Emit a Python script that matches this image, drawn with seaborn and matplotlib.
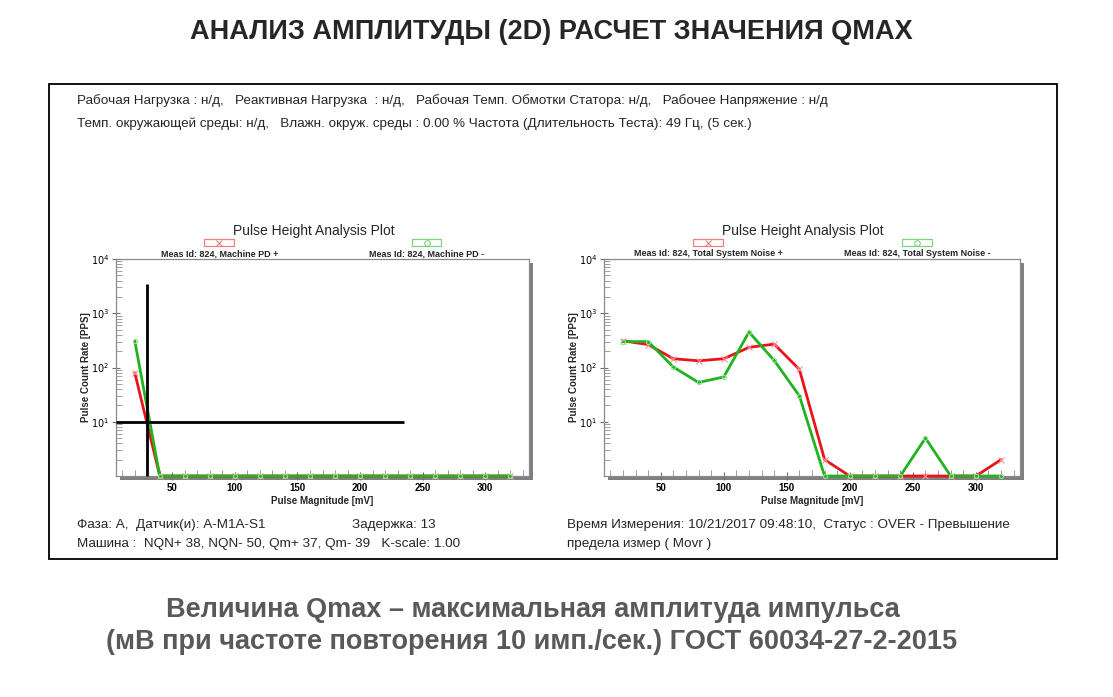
import numpy as np
import pandas as pd
import matplotlib
matplotlib.use('Agg')
import matplotlib.pyplot as plt
import seaborn as sns
from matplotlib.patches import Rectangle
from matplotlib.ticker import FixedLocator, LogLocator, NullFormatter

sns.set_style('white')
plt.rcParams['font.family'] = ['Liberation Sans', 'DejaVu Sans']

# pulse magnitude bins [mV]
magnitude = [20, 40, 60, 80, 100, 120, 140, 160, 180, 200, 220, 240, 260, 280, 300, 320]

# machine PD (left plot), pulse count rate [PPS]
pd_plus = [80, 1, 1, 1, 1, 1, 1, 1, 1, 1, 1, 1, 1, 1, 1, 1]
pd_minus = [310, 1, 1, 1, 1, 1, 1, 1, 1, 1, 1, 1, 1, 1, 1, 1]

# total system noise (right plot)
noise_plus = [310, 265, 145, 133, 145, 235, 270, 92, 2, 1, 1, 1, 1, 1, 1, 2]
noise_minus = [300, 300, 102, 53, 67, 450, 135, 30, 1, 1, 1, 1, 5, 1, 1, 1]

# Qmax construction on the left plot
qmax_mv = 30
rate_level = 10
qmax_line_top = 3500
rate_line_end = 235

legend_left = ['Meas Id: 824, Machine PD +', 'Meas Id: 824, Machine PD -']
legend_right = ['Meas Id: 824, Total System Noise +', 'Meas Id: 824, Total System Noise -']
ytick_vals = [10, 100, 1000, 10000]
ytick_labels = ['$10^1$', '$10^2$', '$10^3$', '$10^4$']
xtick_vals = [50, 100, 150, 200, 250, 300]

RED = '#e8141c'
GREEN = '#1fb41f'
INFO_SIZE = 9.7

W, H = 1113, 697
fig = plt.figure(figsize=(W / 100, H / 100), dpi=100)
fig.patch.set_facecolor('white')


def fx(px):
    return px / W


def fy(py):
    return 1 - py / H


# outer frame
fig.patches.append(Rectangle((fx(49), fy(559)), fx(1057) - fx(49), fy(84) - fy(559),
                             transform=fig.transFigure, fill=False, edgecolor='black',
                             linewidth=1.3, zorder=0))

fig.text(fx(551), fy(32), 'АНАЛИЗ АМПЛИТУДЫ (2D) РАСЧЕТ ЗНАЧЕНИЯ QMAX',
         ha='center', va='center', fontsize=19.5, fontweight='bold')

fig.text(fx(77), fy(101), 'Рабочая Нагрузка : н/д,   Реактивная Нагрузка  : н/д,   Рабочая Темп. Обмотки Статора: н/д,   Рабочее Напряжение : н/д',
         ha='left', va='center', fontsize=INFO_SIZE)
fig.text(fx(77), fy(124), 'Темп. окружающей среды: н/д,   Влажн. окруж. среды : 0.00 % Частота (Длительность Теста): 49 Гц, (5 сек.)',
         ha='left', va='center', fontsize=INFO_SIZE)

fig.text(fx(77), fy(525), 'Фаза: А,  Датчик(и): А-М1А-S1', ha='left', va='center', fontsize=INFO_SIZE)
fig.text(fx(352), fy(525), 'Задержка: 13', ha='left', va='center', fontsize=INFO_SIZE)
fig.text(fx(77), fy(544), 'Машина :  NQN+ 38, NQN- 50, Qm+ 37, Qm- 39   K-scale: 1.00',
         ha='left', va='center', fontsize=INFO_SIZE)
fig.text(fx(567), fy(525), 'Время Измерения: 10/21/2017 09:48:10,  Статус : OVER - Превышение',
         ha='left', va='center', fontsize=INFO_SIZE)
fig.text(fx(567), fy(544), 'предела измер ( Movr )', ha='left', va='center', fontsize=INFO_SIZE)

fig.text(fx(533), fy(610), 'Величина Qmax – максимальная амплитуда импульса',
         ha='center', va='center', fontsize=19.5, fontweight='bold', color='#595959')
fig.text(fx(532), fy(642), '(мВ при частоте повторения 10 имп./сек.) ГОСТ 60034-27-2-2015',
         ha='center', va='center', fontsize=19.5, fontweight='bold', color='#595959')


def make_axes(left_px, right_px, top_px, bottom_px):
    rect = [fx(left_px), fy(bottom_px), fx(right_px) - fx(left_px), fy(top_px) - fy(bottom_px)]
    # drop shadow
    fig.patches.append(Rectangle((rect[0] + fx(4), rect[1] - 4 / H), rect[2], rect[3],
                                 transform=fig.transFigure, facecolor='#7f7f7f',
                                 edgecolor='none', zorder=-1))
    ax = fig.add_axes(rect)
    ax.set_facecolor('white')
    return ax


def style_axes(ax, legend_labels):
    ax.set_yscale('log')
    ax.set_ylim(1, 10000)
    ax.set_xlim(5, 335)
    ax.yaxis.set_major_locator(FixedLocator(ytick_vals))
    ax.set_yticklabels(ytick_labels)
    ax.yaxis.set_minor_locator(LogLocator(base=10, subs=np.arange(2, 10)))
    ax.yaxis.set_minor_formatter(NullFormatter())
    ax.xaxis.set_major_locator(FixedLocator(xtick_vals))
    ax.xaxis.set_minor_locator(FixedLocator(list(range(10, 335, 10))))
    ax.tick_params(axis='both', which='major', direction='inout', length=6, width=0.8,
                   colors='#707070', labelcolor='black', labelsize=7, pad=2, left=True, bottom=True)
    ax.tick_params(axis='both', which='minor', direction='in', length=4, width=0.6,
                   colors='#909090', left=True, bottom=True)
    for lbl in ax.get_xticklabels() + ax.get_yticklabels():
        lbl.set_fontweight('bold')
    for s in ax.spines.values():
        s.set_color('#8a8a8a')
        s.set_linewidth(0.9)
    ax.set_xlabel('Pulse Magnitude [mV]', fontsize=7, fontweight='bold', labelpad=2)
    ax.set_ylabel('Pulse Count Rate [PPS]', fontsize=7, fontweight='bold', labelpad=0)
    ax.set_title('Pulse Height Analysis Plot', fontsize=10, pad=17.5, x=0.478)
    # legend boxes above the plot
    for xc, lab, col, mk in [(0.25, legend_labels[0], '#f08080', 'x'),
                             (0.752, legend_labels[1], '#80d080', 'o')]:
        ax.add_patch(Rectangle((xc - 0.036, 1.058), 0.072, 0.036, transform=ax.transAxes,
                               fill=False, edgecolor=col, linewidth=0.9, clip_on=False))
        ax.plot([xc], [1.076], transform=ax.transAxes, marker=mk, markersize=4,
                markerfacecolor='none', markeredgecolor=col, markeredgewidth=0.8, clip_on=False)
        ax.text(xc, 1.024, lab, transform=ax.transAxes, ha='center', va='center',
                fontsize=6.5, fontweight='bold')


def draw_series(ax, plus, minus):
    df = pd.DataFrame({'mag': magnitude, 'plus': plus, 'minus': minus})
    sns.lineplot(data=df, x='mag', y='plus', ax=ax, color=RED, linewidth=2, marker='x',
                 markersize=4, markeredgecolor='#ff9090', markeredgewidth=0.8, clip_on=False, zorder=3)
    sns.lineplot(data=df, x='mag', y='minus', ax=ax, color=GREEN, linewidth=2, marker='o',
                 markersize=3, markerfacecolor='none', markeredgecolor='#90e090',
                 markeredgewidth=0.8, clip_on=False, zorder=4)


ax1 = make_axes(116, 529, 259, 476)
draw_series(ax1, pd_plus, pd_minus)
ax1.vlines(qmax_mv, 1, qmax_line_top, color='black', linewidth=2, zorder=5, clip_on=False)
ax1.hlines(rate_level, 5, rate_line_end, color='black', linewidth=2, zorder=5)
style_axes(ax1, legend_left)

ax2 = make_axes(604, 1020, 259, 476)
draw_series(ax2, noise_plus, noise_minus)
style_axes(ax2, legend_right)

fig.savefig('out.png', dpi=100, facecolor='white')
